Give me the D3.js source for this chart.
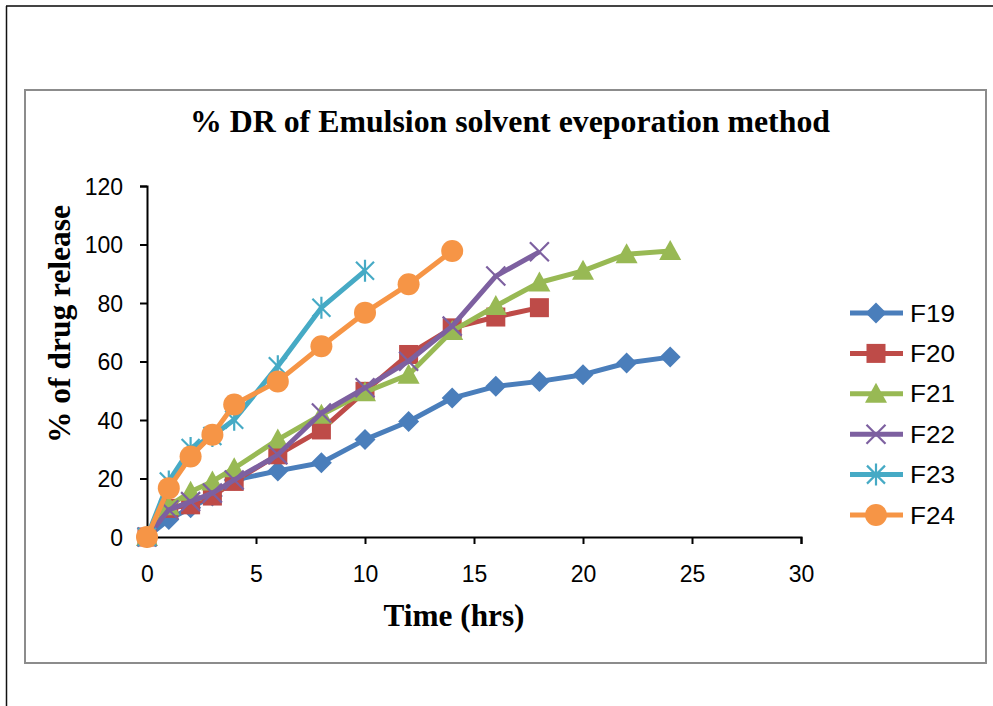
<!DOCTYPE html>
<html>
<head>
  <meta charset="utf-8">
  <script src="https://cdn.jsdelivr.net/npm/d3@7"></script>
  <style>
    body { margin: 0; background: #fff; }
    svg { display: block; }
  </style>
</head>
<body>
<script>
  // time points (hrs) for each formulation
  var timeLong  = [0, 1, 2, 3, 4, 6, 8, 10, 12, 14, 16, 18, 20, 22, 24];
  var timeMid   = [0, 1, 2, 3, 4, 6, 8, 10, 12, 14, 16, 18];
  var timeShort = [0, 1, 2, 3, 4, 6, 8, 10];
  var time14    = [0, 1, 2, 3, 4, 6, 8, 10, 12, 14];

  // % drug release
  var f19 = [0, 6, 10, 14, 19.5, 22.6, 25.4, 33.3, 39.5, 47.5, 51.5, 53.2, 55.5, 59.5, 61.5];
  var f20 = [0, 9.8, 11, 14, 19, 28.1, 36.6, 49.8, 62.4, 71.5, 75.2, 78.4];
  var f21 = [0, 10.5, 15.5, 19, 23.5, 33.3, 41.8, 49.5, 55.5, 70.4, 79, 87, 91, 96.7, 97.8];
  var f22 = [0, 9.3, 12.1, 15, 19.5, 28.1, 42.4, 51, 60.1, 72.1, 89.2, 97.5];
  var f23 = [0, 19, 30.4, 34.5, 40.1, 58.4, 78.4, 91];
  var f24 = [0, 16.7, 27.5, 35, 45.3, 53.2, 65.2, 76.7, 86.4, 97.8];

  var seriesNames = ["F19", "F20", "F21", "F22", "F23", "F24"];
  var xTicks = [0, 5, 10, 15, 20, 25, 30];
  var yTicks = [0, 20, 40, 60, 80, 100, 120];

  var series = [
    {name: "F19", x: timeLong,  y: f19, color: "#4a7ebb", marker: "diamond"},
    {name: "F20", x: timeMid,   y: f20, color: "#be4b48", marker: "square"},
    {name: "F21", x: timeLong,  y: f21, color: "#98b954", marker: "triangle"},
    {name: "F22", x: timeMid,   y: f22, color: "#7d60a0", marker: "cross"},
    {name: "F23", x: timeShort, y: f23, color: "#46aac5", marker: "star"},
    {name: "F24", x: time14,    y: f24, color: "#f69546", marker: "circle"}
  ];

  var width = 993, height = 706;
  var svg = d3.select("body").append("svg")
      .attr("width", width)
      .attr("height", height);

  // outer page lines
  svg.append("line").attr("x1", 6).attr("x2", width).attr("y1", 6).attr("y2", 6)
      .attr("stroke", "#444").attr("stroke-width", 2);
  svg.append("line").attr("x1", 6.5).attr("x2", 6.5).attr("y1", 6).attr("y2", height)
      .attr("stroke", "#111").attr("stroke-width", 1.5);

  // chart frame
  svg.append("rect").attr("x", 25).attr("y", 90).attr("width", 961).attr("height", 573)
      .attr("fill", "#fff").attr("stroke", "#8c8c8c").attr("stroke-width", 2);

  var x = d3.scaleLinear().domain([0, 30]).range([147, 801]);
  var y = d3.scaleLinear().domain([0, 120]).range([537, 186]);

  // axes
  var xAxis = svg.append("g").attr("transform", "translate(0," + y(0) + ")")
      .call(d3.axisBottom(x).tickValues(xTicks).tickSize(7).tickPadding(22));
  var yAxis = svg.append("g").attr("transform", "translate(" + x(0) + ",0)")
      .call(d3.axisLeft(y).tickValues(yTicks).tickSize(7).tickPadding(17));
  [xAxis, yAxis].forEach(function (a) {
    a.select(".domain").attr("stroke", "#000").attr("stroke-width", 2);
    a.selectAll(".tick line").attr("stroke", "#000").attr("stroke-width", 2);
    a.selectAll(".tick text")
      .attr("font-family", "Liberation Sans, Arial, sans-serif")
      .attr("font-size", "23px")
      .attr("fill", "#000");
  });
  yAxis.selectAll(".tick text").attr("dy", "0.36em");

  // markers
  function drawMarker(g, type, color) {
    if (type === "diamond") {
      g.append("path").attr("d", "M0,-10.5L10.5,0L0,10.5L-10.5,0Z").attr("fill", color);
    } else if (type === "square") {
      g.append("rect").attr("x", -9.5).attr("y", -9.5).attr("width", 19).attr("height", 19)
        .attr("fill", color);
    } else if (type === "triangle") {
      g.append("path").attr("d", "M0,-11L11,9L-11,9Z").attr("fill", color);
    } else if (type === "cross") {
      g.append("path").attr("d", "M-9.5,-9.5L9.5,9.5M-9.5,9.5L9.5,-9.5")
        .attr("stroke", color).attr("stroke-width", 2.2).attr("fill", "none");
    } else if (type === "star") {
      g.append("path").attr("d", "M-9,-9L9,9M-9,9L9,-9M0,-11L0,11")
        .attr("stroke", color).attr("stroke-width", 2.2).attr("fill", "none");
    } else if (type === "circle") {
      g.append("circle").attr("r", 11).attr("fill", color);
    }
  }

  var line = d3.line()
      .x(function (d) { return x(d[0]); })
      .y(function (d) { return y(d[1]); });

  series.forEach(function (s) {
    var pts = s.x.map(function (t, i) { return [t, s.y[i]]; });
    var g = svg.append("g");
    g.append("path").datum(pts)
      .attr("d", line)
      .attr("fill", "none")
      .attr("stroke", s.color)
      .attr("stroke-width", 5)
      .attr("stroke-linejoin", "round");
    pts.forEach(function (p) {
      var m = g.append("g").attr("transform", "translate(" + x(p[0]) + "," + y(p[1]) + ")");
      drawMarker(m, s.marker, s.color);
    });
  });

  // legend
  var legend = svg.append("g");
  series.forEach(function (s, i) {
    var ly = 313 + i * 40.4;
    var lg = legend.append("g").attr("transform", "translate(0," + ly + ")");
    lg.append("line").attr("x1", 850).attr("x2", 903).attr("y1", 0).attr("y2", 0)
      .attr("stroke", s.color).attr("stroke-width", 5);
    drawMarker(lg.append("g").attr("transform", "translate(876,0)"), s.marker, s.color);
    lg.append("text").attr("x", 910).attr("y", 0).attr("dy", "0.36em")
      .attr("font-family", "Liberation Sans, Arial, sans-serif")
      .attr("font-size", "24px")
      .attr("textLength", 45).attr("lengthAdjust", "spacingAndGlyphs")
      .text(seriesNames[i]);
  });

  // titles
  svg.append("text")
    .attr("x", 510).attr("y", 132)
    .attr("text-anchor", "middle")
    .attr("font-family", "Liberation Serif, Times New Roman, serif")
    .attr("font-weight", "bold")
    .attr("font-size", "31px")
    .attr("textLength", 640).attr("lengthAdjust", "spacingAndGlyphs")
    .text("% DR of Emulsion solvent eveporation method");

  svg.append("text")
    .attr("x", 454).attr("y", 626)
    .attr("text-anchor", "middle")
    .attr("font-family", "Liberation Serif, Times New Roman, serif")
    .attr("font-weight", "bold")
    .attr("font-size", "31px")
    .attr("textLength", 141).attr("lengthAdjust", "spacingAndGlyphs")
    .text("Time (hrs)");

  svg.append("text")
    .attr("transform", "translate(70,324) rotate(-90)")
    .attr("text-anchor", "middle")
    .attr("font-family", "Liberation Serif, Times New Roman, serif")
    .attr("font-weight", "bold")
    .attr("font-size", "31px")
    .attr("textLength", 238).attr("lengthAdjust", "spacingAndGlyphs")
    .text("% of drug release");
</script>
</body>
</html>
